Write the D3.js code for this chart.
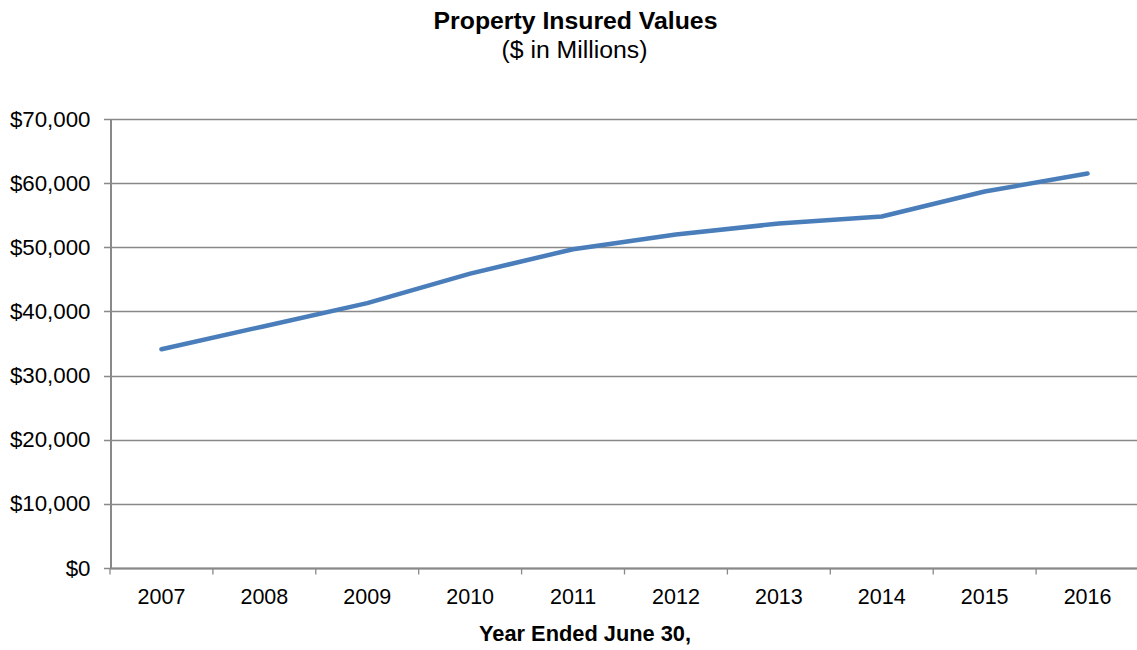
<!DOCTYPE html>
<html>
<head>
<meta charset="utf-8">
<script src="https://cdn.jsdelivr.net/npm/d3@7"></script>
<style>
  html, body { margin: 0; padding: 0; background: #fff; }
  svg { display: block; font-family: "Liberation Sans", Arial, sans-serif; }
</style>
</head>
<body>
<svg id="chart" width="1137" height="650"></svg>
<script>
// Property insured values by fiscal year ($ in millions)
const years = ["2007", "2008", "2009", "2010", "2011", "2012", "2013", "2014", "2015", "2016"];
const insuredValues = [34100, 37700, 41300, 45900, 49700, 52000, 53700, 54800, 58700, 61500];
const yTicks = [0, 10000, 20000, 30000, 40000, 50000, 60000, 70000];

const svg = d3.select("#chart");
const margin = { left: 110, right: -2, top: 119, bottom: 82 };
const width = 1137, height = 650;

const x = d3.scaleBand()
  .domain(years)
  .range([margin.left, width - margin.right]);

const y = d3.scaleLinear()
  .domain([0, 70000])
  .range([height - margin.bottom, margin.top]);

const gridColor = "#898989";

// horizontal gridlines
svg.append("g")
  .selectAll("line")
  .data(yTicks)
  .join("line")
  .attr("x1", margin.left - 6)
  .attr("x2", width - margin.right)
  .attr("y1", d => Math.round(y(d)) + 0.5)
  .attr("y2", d => Math.round(y(d)) + 0.5)
  .attr("stroke", gridColor)
  .attr("stroke-width", 1.3);

// y axis
const fmt = d3.format("$,.0f");
const yAxis = svg.append("g")
  .attr("transform", `translate(${margin.left + 0.5},0)`)
  .call(d3.axisLeft(y).tickValues(yTicks).tickFormat(fmt).tickSize(0).tickPadding(20));
yAxis.select(".domain").attr("stroke", gridColor).attr("stroke-width", 2);
yAxis.selectAll("text").attr("font-size", "22.3px").attr("fill", "#000");

// x axis with ticks between categories
const xAxisG = svg.append("g")
  .attr("transform", `translate(0,${Math.round(y(0)) + 0.5})`);
xAxisG.append("line")
  .attr("x1", margin.left).attr("x2", width)
  .attr("stroke", gridColor).attr("stroke-width", 2);
xAxisG.selectAll("line.sep")
  .data(years)
  .join("line")
  .attr("class", "sep")
  .attr("x1", d => x(d)).attr("x2", d => x(d))
  .attr("y1", 0).attr("y2", 6)
  .attr("stroke", gridColor).attr("stroke-width", 1.3);
xAxisG.selectAll("text")
  .data(years)
  .join("text")
  .attr("x", d => x(d) + x.bandwidth() / 2)
  .attr("y", 35)
  .attr("text-anchor", "middle")
  .attr("font-size", "21.5px")
  .attr("fill", "#000")
  .text(d => d);

// series line
const line = d3.line()
  .x((d, i) => x(years[i]) + x.bandwidth() / 2)
  .y(d => y(d));

svg.append("path")
  .datum(insuredValues)
  .attr("d", line)
  .attr("fill", "none")
  .attr("stroke", "#4a7ebb")
  .attr("stroke-width", 4.5)
  .attr("stroke-linejoin", "round")
  .attr("stroke-linecap", "round");

// titles
svg.append("text")
  .attr("x", 575.5).attr("y", 29)
  .attr("text-anchor", "middle")
  .attr("font-size", "24.8px").attr("font-weight", "bold")
  .text("Property Insured Values");
svg.append("text")
  .attr("x", 574.5).attr("y", 58)
  .attr("text-anchor", "middle")
  .attr("font-size", "24.8px")
  .text("($ in Millions)");
svg.append("text")
  .attr("x", 585).attr("y", 641)
  .attr("text-anchor", "middle")
  .attr("font-size", "21.8px").attr("font-weight", "bold")
  .text("Year Ended June 30,");
</script>
</body>
</html>
